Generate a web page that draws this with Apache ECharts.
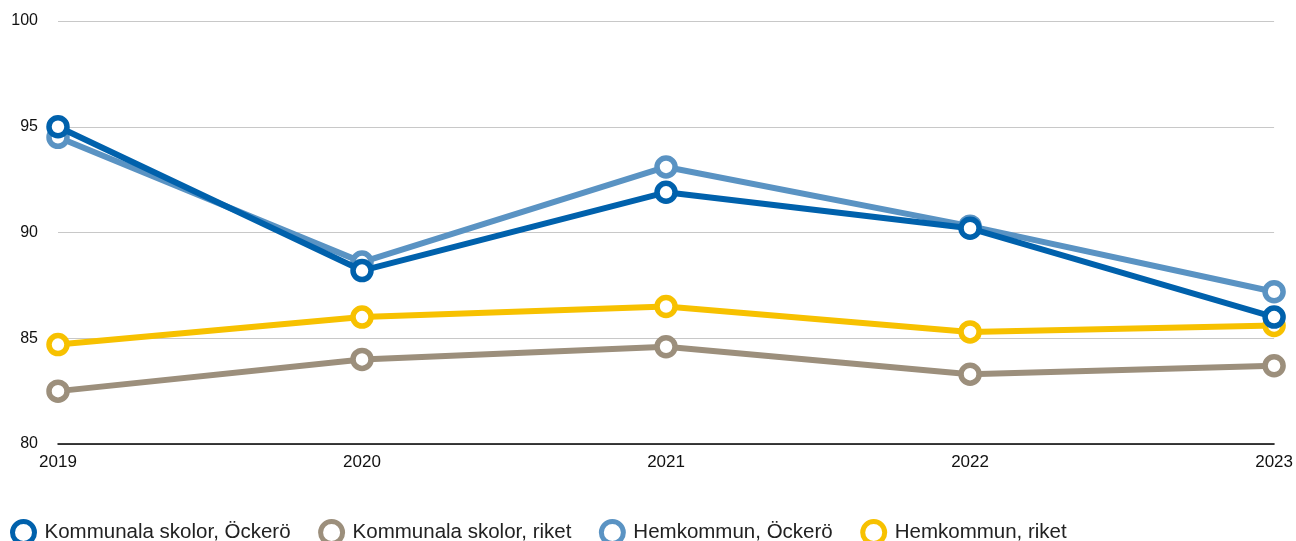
<!DOCTYPE html>
<html><head><meta charset="utf-8">
<script src="https://cdn.jsdelivr.net/npm/echarts@6/dist/echarts.min.js"></script>
<style>html,body{margin:0;padding:0;background:#fff}#c{width:1296px;height:541px}</style>
</head><body><div id="c"></div>
<script>
const years = ['2019','2020','2021','2022','2023'];
const kommunalaOckero = [95.0, 88.2, 91.9, 90.2, 86.0];
const kommunalaRiket = [82.5, 84.0, 84.6, 83.3, 83.7];
const hemkommunOckero = [94.5, 88.6, 93.1, 90.3, 87.2];
const hemkommunRiket = [84.7, 86.0, 86.5, 85.3, 85.6];
const names = ['Kommunala skolor, Öckerö','Kommunala skolor, riket','Hemkommun, Öckerö','Hemkommun, riket'];
const colors = ['#0061AC','#9C8F7C','#5A93C3','#F7C100'];
const datas = [kommunalaOckero, kommunalaRiket, hemkommunOckero, hemkommunRiket];
const zs = [4,1,3,2];
const font = 'Liberation Sans, Arial, sans-serif';
const chart = echarts.init(document.getElementById('c'));
chart.setOption({
  animation:false,
  grid:{left:58,right:21,top:21,bottom:97,containLabel:false},
  legend:{
    left:10, top:519, padding:0, itemGap:27.5, itemWidth:22, itemHeight:22,
    textStyle:{fontSize:20.5, color:'#222', fontFamily:font, padding:[0,0,0,5]},
    data:names.map((n,i)=>({name:n, icon:'circle', itemStyle:{color:'#fff', borderColor:colors[i], borderWidth:5}}))
  },
  xAxis:{type:'category', data:years, boundaryGap:false,
    axisLine:{lineStyle:{color:'#000', width:1.5}}, axisTick:{show:false},
    axisLabel:{fontSize:17, color:'#111', fontFamily:font, margin:10, showMaxLabel:true}},
  yAxis:{type:'value', min:80, max:100, interval:5,
    axisLine:{show:false}, axisTick:{show:false},
    axisLabel:{fontSize:16, color:'#111', fontFamily:font, margin:20},
    splitLine:{lineStyle:{color:'#c8c8c8', width:1}}},
  series: names.map((n,i)=>({
    name:n, type:'line', data:datas[i], z:zs[i],
    symbol:'circle', symbolSize:18,
    lineStyle:{color:colors[i], width:6},
    itemStyle:{color:'#fff', borderColor:colors[i], borderWidth:5.5}
  }))
});
</script></body></html>
